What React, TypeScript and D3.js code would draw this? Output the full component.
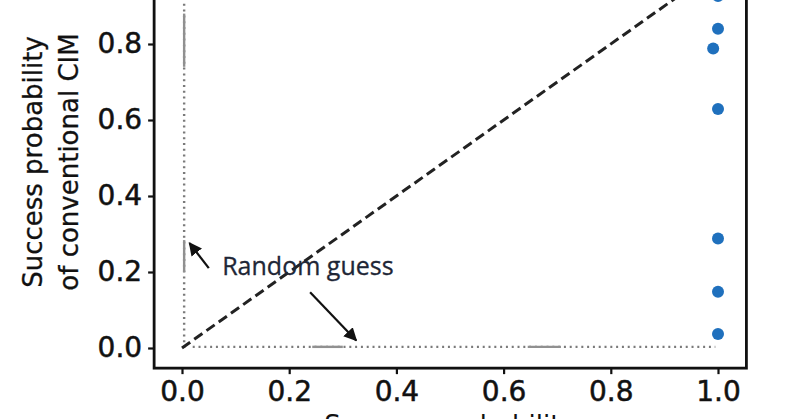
import { useEffect, useRef } from "react";
import * as d3 from "d3";

// success probabilities (x: proposed, y: conventional CIM)
const pointX = [1.0, 1.0, 0.991, 1.0, 1.0, 1.0, 1.0];
const pointY = [0.926, 0.84, 0.788, 0.629, 0.288, 0.148, 0.037];

const xTicks = [0, 0.2, 0.4, 0.6, 0.8, 1.0];
const yTicks = [0, 0.2, 0.4, 0.6, 0.8];

// grey "random guess" guides and the solid bits that show in them
const guideV = { x: 0.004, y0: 0, y1: 1.08 };
const guideH = { y: 0.003, x0: 0.02, x1: 0.995 };
const solidV = [
  [0.74, 0.88],
  [0.2, 0.284],
];
const solidH = [
  [0.243, 0.3],
  [0.645, 0.707],
];

// annotation arrows: [fromX, fromY, toX, toY]
const arrows = [
  [0.05, 0.21, 0.014, 0.276],
  [0.239, 0.147, 0.325, 0.02],
];
const annotation = { text: "Random guess", x: 0.075, y: 0.192 };

const W = 800;
const H = 419;

export default function App() {
  const ref = useRef<SVGSVGElement>(null);

  useEffect(() => {
    const svg = d3.select(ref.current);
    svg.selectAll("*").remove();

    const x = d3.scaleLinear().domain([0, 1]).range([182, 718]);
    const y = d3.scaleLinear().domain([0, 1]).range([348, -32]);
    const xlim = [-0.052, 1.053];
    const ylim = [-0.053, 1.053];

    const axisFont = "'DejaVu Sans', sans-serif";

    svg
      .append("defs")
      .append("marker")
      .attr("id", "head")
      .attr("viewBox", "0 0 10 10")
      .attr("refX", 9)
      .attr("refY", 5)
      .attr("markerWidth", 6)
      .attr("markerHeight", 6)
      .attr("markerUnits", "strokeWidth")
      .attr("orient", "auto")
      .append("path")
      .attr("d", "M0,0 L10,5 L0,10 z")
      .attr("fill", "#111");

    // dotted guides
    svg
      .append("line")
      .attr("x1", x(guideV.x))
      .attr("x2", x(guideV.x))
      .attr("y1", y(guideV.y0))
      .attr("y2", y(guideV.y1))
      .attr("stroke", "#7a7a7a")
      .attr("stroke-width", 2.4)
      .attr("stroke-dasharray", "2 3.8");
    svg
      .append("line")
      .attr("x1", x(guideH.x0))
      .attr("x2", x(guideH.x1))
      .attr("y1", y(guideH.y))
      .attr("y2", y(guideH.y))
      .attr("stroke", "#7a7a7a")
      .attr("stroke-width", 2.4)
      .attr("stroke-dasharray", "2 3.8");

    svg
      .append("g")
      .selectAll("line")
      .data(solidV)
      .join("line")
      .attr("x1", x(guideV.x))
      .attr("x2", x(guideV.x))
      .attr("y1", (d) => y(d[0]))
      .attr("y2", (d) => y(d[1]))
      .attr("stroke", "#909090")
      .attr("stroke-width", 2.4);
    svg
      .append("g")
      .selectAll("line")
      .data(solidH)
      .join("line")
      .attr("x1", (d) => x(d[0]))
      .attr("x2", (d) => x(d[1]))
      .attr("y1", y(guideH.y))
      .attr("y2", y(guideH.y))
      .attr("stroke", "#909090")
      .attr("stroke-width", 2.4);

    // diagonal
    svg
      .append("line")
      .attr("x1", x(0))
      .attr("y1", y(0))
      .attr("x2", x(1.1))
      .attr("y2", y(1.1))
      .attr("stroke", "#222")
      .attr("stroke-width", 3)
      .attr("stroke-dasharray", "10 5");

    // points
    svg
      .append("g")
      .selectAll("circle")
      .data(pointY)
      .join("circle")
      .attr("cx", (_, i) => x(pointX[i]))
      .attr("cy", (d) => y(d))
      .attr("r", 6)
      .attr("fill", "#1f70bd");

    // annotation
    svg
      .append("g")
      .selectAll("line")
      .data(arrows)
      .join("line")
      .attr("x1", (d) => x(d[0]))
      .attr("y1", (d) => y(d[1]))
      .attr("x2", (d) => x(d[2]))
      .attr("y2", (d) => y(d[3]))
      .attr("stroke", "#111")
      .attr("stroke-width", 2.2)
      .attr("marker-end", "url(#head)");

    svg
      .append("text")
      .attr("x", x(annotation.x))
      .attr("y", y(annotation.y))
      .attr("font-family", "'Open Sans', sans-serif")
      .attr("font-size", 25)
      .attr("fill", "#1e2636")
      .attr("stroke", "#1e2636")
      .attr("stroke-width", 0.3)
      .text(annotation.text);

    // frame
    svg
      .append("rect")
      .attr("x", x(xlim[0]))
      .attr("y", y(ylim[1]))
      .attr("width", x(xlim[1]) - x(xlim[0]))
      .attr("height", y(ylim[0]) - y(ylim[1]))
      .attr("fill", "none")
      .attr("stroke", "#111")
      .attr("stroke-width", 2.8);

    const fmt = d3.format(".1f");

    const gx = svg
      .append("g")
      .attr("transform", `translate(0,${y(ylim[0])})`)
      .call(
        d3
          .axisBottom(x)
          .tickValues(xTicks)
          .tickFormat((d) => fmt(d as number))
          .tickSize(6)
          .tickPadding(7),
      );
    gx.select(".domain").remove();
    gx.selectAll("line").attr("stroke", "#111").attr("stroke-width", 2.2);
    gx.selectAll("text")
      .attr("font-family", axisFont)
      .attr("font-size", 28)
      .attr("fill", "#111")
      .attr("stroke", "#111")
      .attr("stroke-width", 0.5);

    const gy = svg
      .append("g")
      .attr("transform", `translate(${x(xlim[0])},0)`)
      .call(
        d3
          .axisLeft(y)
          .tickValues(yTicks)
          .tickFormat((d) => fmt(d as number))
          .tickSize(6)
          .tickPadding(6),
      );
    gy.select(".domain").remove();
    gy.selectAll("line").attr("stroke", "#111").attr("stroke-width", 2.2);
    gy.selectAll("text")
      .attr("font-family", axisFont)
      .attr("font-size", 28)
      .attr("fill", "#111")
      .attr("stroke", "#111")
      .attr("stroke-width", 0.5);

    // axis titles
    const yTitle = svg
      .append("text")
      .attr("transform", "translate(0,162) rotate(-90)")
      .attr("text-anchor", "middle")
      .attr("font-family", axisFont)
      .attr("font-size", 26)
      .attr("fill", "#111")
      .attr("stroke", "#111")
      .attr("stroke-width", 0.3);
    yTitle.append("tspan").attr("x", 0).attr("y", 42).text("Success probability");
    yTitle
      .append("tspan")
      .attr("x", 0)
      .attr("y", 78)
      .text("of conventional CIM");

    svg
      .append("text")
      .attr("x", x(0.5))
      .attr("y", 434)
      .attr("text-anchor", "middle")
      .attr("font-family", axisFont)
      .attr("font-size", 26)
      .attr("fill", "#111")
      .text("Success probability");
  }, []);

  return (
    <svg
      ref={ref}
      width={W}
      height={H}
      style={{ position: "absolute", left: 0, top: 0, background: "#fff" }}
    />
  );
}
